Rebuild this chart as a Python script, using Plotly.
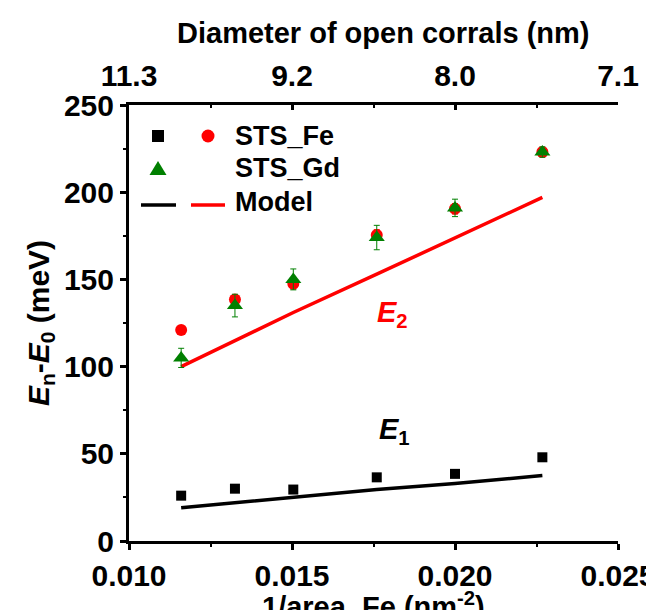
import plotly.graph_objects as go

# ---- data ----
inv_area = [0.0116, 0.01325, 0.01504, 0.0176, 0.0200, 0.02268]
fe_e1 = [26, 30, 29.5, 36.5, 38.5, 48]
fe_e2 = [121, 138.5, 147.5, 175.5, 190.5, 223]
fe_e2_err = [1.5, 2, 3, 3, 3, 2]
gd_e2 = [105, 135, 150, 174, 191, 223]
gd_e2_err = [5.5, 6.5, 6, 7, 5, 3]
model_e1 = [19, 22, 25, 29.5, 33, 37.5]
model_e2 = [100, 115, 131, 153, 174, 197]
bottom_ticks = [0.010, 0.015, 0.020, 0.025]
top_tick_labels = ["11.3", "9.2", "8.0", "7.1"]

FONT = "Liberation Sans, Arial, sans-serif"
RED = "#ff0000"
GREEN = "#008000"

fig = go.Figure()
fig.add_trace(go.Scatter(x=inv_area, y=model_e1, mode="lines",
                         line=dict(color="black", width=3.5), showlegend=False))
fig.add_trace(go.Scatter(x=inv_area, y=model_e2, mode="lines",
                         line=dict(color=RED, width=3.5), showlegend=False))
fig.add_trace(go.Scatter(x=inv_area, y=fe_e1, mode="markers",
                         marker=dict(symbol="square", size=10, color="black"),
                         showlegend=False))
fig.add_trace(go.Scatter(x=inv_area, y=fe_e2, mode="markers",
                         marker=dict(symbol="circle", size=12, color=RED),
                         error_y=dict(type="data", array=fe_e2_err, color=RED,
                                      thickness=1, width=3),
                         showlegend=False))
fig.add_trace(go.Scatter(x=inv_area, y=gd_e2, mode="markers",
                         marker=dict(symbol="triangle-up", size=14, color=GREEN),
                         error_y=dict(type="data", array=gd_e2_err, color=GREEN,
                                      thickness=1, width=3),
                         showlegend=False))
# invisible trace to activate the top axis
fig.add_trace(go.Scatter(x=bottom_ticks, y=[None] * 4, xaxis="x2",
                         mode="markers", showlegend=False, hoverinfo="skip"))

tickfont = dict(family=FONT, size=30, color="black", weight="bold")

fig.update_layout(
    width=654, height=610,
    margin=dict(l=121, r=44, t=97, b=77, autoexpand=False),
    paper_bgcolor="white", plot_bgcolor="white",
    font=dict(family=FONT, color="black"),
    xaxis=dict(range=[0.010, 0.025], tickvals=bottom_ticks, tickformat=".3f",
               showline=True, linewidth=3, linecolor="black", mirror=False,
               ticks="outside", ticklen=6, tickwidth=3, tickcolor="black",
               minor=dict(dtick=0.0025, tick0=0.010, ticks="outside", ticklen=3,
                          tickwidth=2, tickcolor="black"),
               showgrid=False, zeroline=False, tickfont=tickfont, automargin=False),
    xaxis2=dict(range=[0.010, 0.025], overlaying="x", side="top",
                tickvals=bottom_ticks, ticktext=top_tick_labels,
                showline=True, linewidth=3, linecolor="black",
                ticks="inside", ticklen=5, tickwidth=3, tickcolor="black",
                minor=dict(dtick=0.0025, tick0=0.010, ticks="inside", ticklen=3,
                           tickwidth=2, tickcolor="black"),
                showgrid=False, zeroline=False, tickfont=tickfont,
                ticklabelstandoff=4, automargin=False),
    yaxis=dict(range=[0, 250], tickvals=[0, 50, 100, 150, 200, 250],
               showline=True, linewidth=3, linecolor="black", mirror=False,
               ticks="outside", ticklen=6, tickwidth=3, tickcolor="black",
               minor=dict(dtick=25, ticks="outside", ticklen=3, tickwidth=2,
                          tickcolor="black"),
               showgrid=False, zeroline=False, tickfont=tickfont, automargin=False,
               title=dict(text="<i>E</i><sub>n</sub>-<i>E</i><sub>0</sub> (meV)",
                          standoff=6,
                          font=dict(family=FONT, size=30, weight="bold"))),
)

pw, ph = 489.0, 436.0
def px(x):
    return (x - 121) / pw
def py(y):
    return (533 - y) / ph

# bottom axis title
fig.add_annotation(text="1/area_Fe (nm<sup>-2</sup>)", xref="paper", yref="paper",
                   x=0.5, y=py(597), showarrow=False, yanchor="middle",
                   font=dict(family=FONT, size=29, weight="bold", color="black"))
# top axis title
fig.add_annotation(text="Diameter of open corrals (nm)", xref="paper", yref="paper",
                   x=0.52, y=1.0, yshift=72, showarrow=False, yanchor="middle",
                   font=dict(family=FONT, size=29, weight="bold", color="black"))

# series labels
fig.add_annotation(text="<i>E</i><sub>2</sub>", x=0.01808, y=130, showarrow=False,
                   font=dict(family=FONT, size=29, weight="bold", color=RED))
fig.add_annotation(text="<i>E</i><sub>1</sub>", x=0.01814, y=63, showarrow=False,
                   font=dict(family=FONT, size=29, weight="bold", color="black"))

# ---- hand-built legend (paper coordinates) ----
shapes = []
shapes.append(dict(type="rect", xref="paper", yref="paper",
                   x0=px(144), x1=px(156), y0=py(134), y1=py(122),
                   fillcolor="black", line=dict(width=0)))
shapes.append(dict(type="circle", xref="paper", yref="paper",
                   x0=px(193.5), x1=px(206.5), y0=py(134.5), y1=py(121.5),
                   fillcolor=RED, line=dict(width=0)))
shapes.append(dict(type="path", xref="paper", yref="paper",
                   path=f"M {px(150)} {py(153)} L {px(158.5)} {py(167)} L {px(141.5)} {py(167)} Z",
                   fillcolor=GREEN, line=dict(width=0)))
shapes.append(dict(type="line", xref="paper", yref="paper",
                   x0=px(133), x1=px(168), y0=py(197), y1=py(197),
                   line=dict(color="black", width=3.5)))
shapes.append(dict(type="line", xref="paper", yref="paper",
                   x0=px(183), x1=px(217), y0=py(197), y1=py(197),
                   line=dict(color=RED, width=3.5)))
fig.update_layout(shapes=shapes)

legfont = dict(family=FONT, size=27, weight="bold", color="black")
for label, yc in [("STS_Fe", 128), ("STS_Gd", 160), ("Model", 194)]:
    fig.add_annotation(text=label, xref="paper", yref="paper", x=px(225), y=py(yc),
                       xanchor="left", yanchor="middle", showarrow=False, font=legfont)

fig.write_html("out.html")
